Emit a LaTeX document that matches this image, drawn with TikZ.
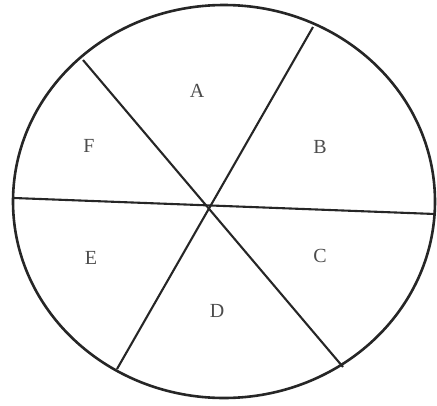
\documentclass[tikz,border=0pt]{standalone}
\usepackage{fontspec}
\setmainfont{Liberation Serif}
\begin{document}
\begin{tikzpicture}[x=1pt,y=-1pt,
  rim/.style={draw=black!85,line width=2.6pt},
  spoke/.style={draw=black!85,line width=2.1pt},
  lab/.style={text=black!70,font=\fontsize{20}{22}\selectfont,inner sep=0pt}]
\useasboundingbox (0,0) rectangle (437,405);
\draw[rim] (224,201.5) ellipse [x radius=211, y radius=196.5];
\coordinate (h1) at (14,198);
\coordinate (h2) at (435,214);
\coordinate (p1) at (83,60);
\coordinate (p2) at (343,367);
\coordinate (q1) at (313,27);
\coordinate (q2) at (117,369);
\draw[spoke] (h1) -- (h2);
\draw[spoke] (p1) -- (p2);
\draw[spoke] (q1) -- (q2);
\node[lab] (A) at (197,91) {A};
\node[lab] (B) at (320,147) {B};
\node[lab] (C) at (320,256) {C};
\node[lab] (D) at (217,311) {D};
\node[lab] (E) at (91,258) {E};
\node[lab] (F) at (89,146) {F};
\end{tikzpicture}
\end{document}
